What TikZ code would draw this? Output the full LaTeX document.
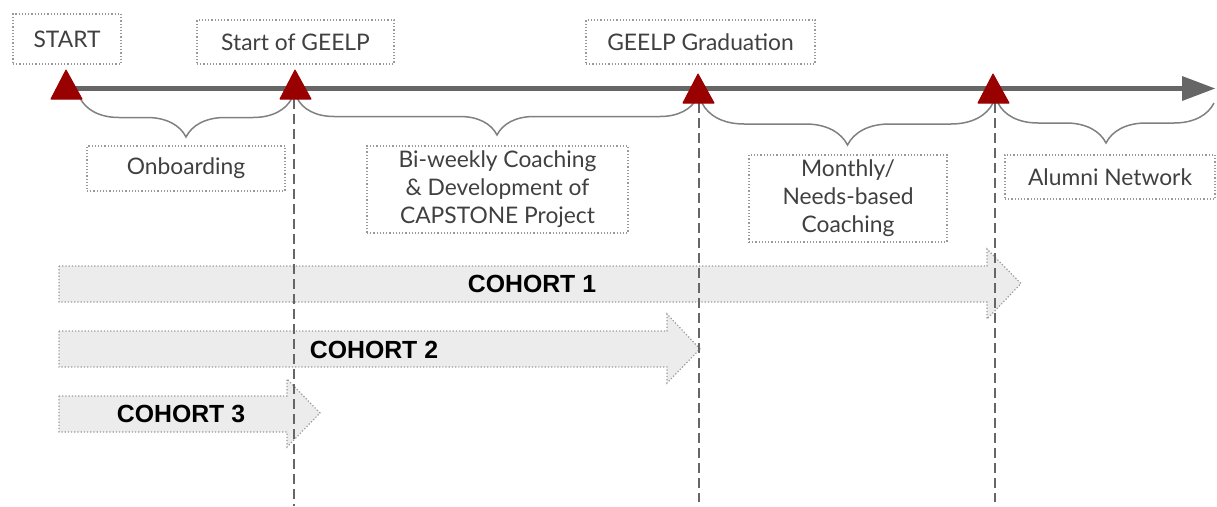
\documentclass[tikz,border=0pt]{standalone}
\usepackage{fontspec}
\setmainfont{Lato}
\newfontfamily\cohortfont{Liberation Sans}
\usetikzlibrary{decorations.pathreplacing}
\definecolor{trired}{HTML}{990000}
\definecolor{linegray}{HTML}{666666}
\definecolor{bracegray}{HTML}{808080}
\definecolor{textgray}{HTML}{404040}
\definecolor{cohortfill}{HTML}{ECECEC}
\definecolor{dotgray}{HTML}{999999}
\begin{document}
\begin{tikzpicture}[x=1pt,y=-1pt,
  lbl/.style={draw=dotgray, dotted, line width=1.2pt, text=textgray,
    font=\fontsize{22.8}{28}\selectfont, align=center, inner sep=0pt},
  brc/.style={draw=bracegray, line width=1.5pt, decorate,
    decoration={brace, mirror, amplitude=#1}},
  vdash/.style={draw=linegray, line width=1.5pt, dash pattern=on 10pt off 5pt},
  tri/.style={fill=trired, draw=trired, line width=1pt, line join=round},
  cohort/.style={fill=cohortfill, draw=dotgray, dotted, line width=1.2pt},
  ctext/.style={font=\cohortfont\bfseries\fontsize{24.8}{28}\selectfont, text=black}
]
\useasboundingbox (0,0) rectangle (1217,506);

% cohort arrows
\draw[cohort] (59,266) -- (987,266) -- (987,249) -- (1021,283.5) -- (987,319) -- (987,302) -- (59,302) -- cycle;
\draw[cohort] (59,331) -- (667,331) -- (667,314) -- (700,349) -- (667,383) -- (667,367) -- (59,367) -- cycle;
\draw[cohort] (59,396) -- (287,396) -- (287,379) -- (320,413) -- (287,447) -- (287,432) -- (59,432) -- cycle;
\node[ctext] (c1) at (532,284) {COHORT 1};
\node[ctext] (c2) at (374,350) {COHORT 2};
\node[ctext] (c3) at (181,414) {COHORT 3};

% key coordinates
\coordinate (t1) at (66,99);
\coordinate (t2) at (294,99);
\coordinate (t3) at (699,103);
\coordinate (t4) at (995,103);
\coordinate (b2) at (294,506);
\coordinate (b3) at (699,502);
\coordinate (b4) at (995,502);
\coordinate (lineS) at (66,88.5);
\coordinate (lineE) at (1186,88.5);

% dashed verticals
\draw[vdash] (t2) -- (b2);
\draw[vdash] (t3) -- (b3);
\draw[vdash] (t4) -- (b4);

% timeline
\draw[linegray, line width=5pt] (lineS) -- (lineE);
\fill[linegray] (1182,76) -- (1215,88.5) -- (1182,101) -- cycle;

% braces
\draw[brc=39] (80,98) -- (292,98);
\draw[brc=37] (297,98) -- (697,98);
\draw[brc=42] (702,103) -- (993,103);
\draw[brc=40] (998,103) -- (1214,103);

% triangles
\draw[tri] (66,70) -- (82,99) -- (51,99) -- cycle;
\draw[tri] (295,70) -- (311,99) -- (280,99) -- cycle;
\draw[tri] (698,74) -- (714,103) -- (683,103) -- cycle;
\draw[tri] (993,74) -- (1009,103) -- (978,103) -- cycle;

% labels
\node[lbl, minimum width=108pt, minimum height=50pt] (start) at (67,39) {START};
\node[lbl, minimum width=197pt, minimum height=44pt] (sog) at (295.5,42) {Start of GEELP};
\node[lbl, minimum width=229pt, minimum height=44pt] (grad) at (700.5,42) {GEELP Graduation};
\node[lbl, minimum width=198pt, minimum height=45pt] (onb) at (186,168.5) {Onboarding};
\node[lbl, minimum width=261pt, minimum height=87pt] (biw) at (497.5,189.5) {Bi-weekly Coaching\\ \& Development of\\ CAPSTONE Project};
\node[lbl, minimum width=198pt, minimum height=87pt] (mon) at (848,198.5) {Monthly/\\ Needs-based\\ Coaching};
\node[lbl, minimum width=210pt, minimum height=44pt] (alu) at (1110,177) {Alumni Network};
\end{tikzpicture}
\end{document}
